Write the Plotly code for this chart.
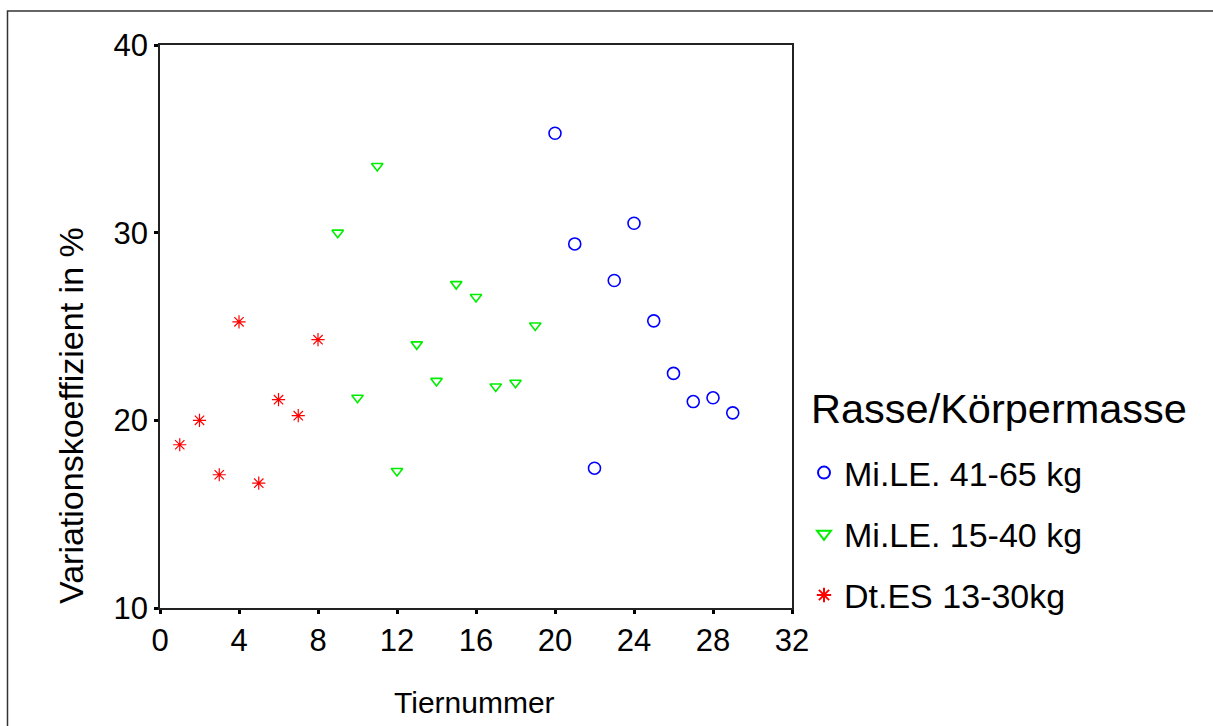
import plotly.graph_objects as go

# Data
tier_large = [20, 21, 22, 23, 24, 25, 26, 27, 28, 29]
cv_large = [35.3, 29.4, 17.45, 27.45, 30.5, 25.3, 22.5, 21.0, 21.2, 20.4]

tier_small = [9, 10, 11, 12, 13, 14, 15, 16, 17, 18, 19]
cv_small = [30.0, 21.2, 33.55, 17.3, 24.05, 22.1, 27.26, 26.57, 21.8, 22.0, 25.05]

tier_es = [1, 2, 3, 4, 5, 6, 7, 8]
cv_es = [18.7, 20.0, 17.1, 25.25, 16.65, 21.1, 20.25, 24.3]

names = ["Mi.LE. 41-65 kg", "Mi.LE. 15-40 kg", "Dt.ES 13-30kg"]
legend_title = "Rasse/Körpermasse"
x_ticks = [0, 4, 8, 12, 16, 20, 24, 28, 32]
y_ticks = [10, 20, 30, 40]

FONT = "Liberation Sans, Arial, sans-serif"
W, H = 1213, 726
L, R, T, B = 160, 421, 45, 118
PW, PH = W - L - R, H - T - B


def px_x(p):
    return (p - L) / PW


def px_y(p):
    return (H - B - p) / PH


fig = go.Figure()
fig.add_trace(go.Scatter(
    x=tier_large, y=cv_large, mode="markers", name=names[0], legendgroup="a",
    marker=dict(symbol="circle-open", size=12, color="#0000ff",
                line=dict(width=1.6, color="#0000ff")),
))
fig.add_trace(go.Scatter(
    x=tier_small, y=cv_small, mode="markers", name=names[1], legendgroup="b",
    marker=dict(symbol="triangle-down-open", size=10, color="#00ee00",
                line=dict(width=1.6, color="#00ee00")),
))
fig.add_trace(go.Scatter(
    x=tier_es, y=cv_es, mode="markers", name=names[2], legendgroup="c",
    marker=dict(symbol="asterisk-open", size=11, color="#ff0000",
                line=dict(width=1.2, color="#ff0000")),
))

fig.update_layout(
    width=W, height=H,
    margin=dict(l=L, r=R, t=T, b=B, autoexpand=False),
    paper_bgcolor="white", plot_bgcolor="white",
    font=dict(family=FONT, color="black"),
    showlegend=True,
    legend=dict(
        x=px_x(804), xanchor="left", y=px_y(444), yanchor="top",
        font=dict(size=34, family=FONT),
        tracegroupgap=14, itemsizing="constant",
        bgcolor="rgba(0,0,0,0)",
    ),
    xaxis=dict(
        range=[0, 32], tickvals=x_ticks, ticktext=[str(v) for v in x_ticks],
        showgrid=False, zeroline=False,
        showline=True, linecolor="#222", linewidth=1.5, mirror=True,
        ticks="outside", ticklen=4, tickwidth=3, tickcolor="black",
        tickfont=dict(size=31, family=FONT),
    ),
    yaxis=dict(
        range=[10, 40], tickvals=y_ticks, ticktext=[str(v) for v in y_ticks],
        showgrid=False, zeroline=False,
        showline=True, linecolor="#222", linewidth=1.5, mirror=True,
        ticks="outside", ticklen=4, tickwidth=3, tickcolor="black",
        tickfont=dict(size=31, family=FONT),
    ),
    annotations=[
        dict(text="Tiernummer", xref="paper", yref="paper",
             x=px_x(474), y=px_y(702), xanchor="center", yanchor="middle",
             showarrow=False, font=dict(size=30, family=FONT)),
        dict(text="Variationskoeffizient in %", xref="paper", yref="paper",
             x=px_x(71), y=px_y(416), xanchor="center", yanchor="middle",
             textangle=-90, showarrow=False, font=dict(size=34, family=FONT)),
        dict(text=legend_title, xref="paper", yref="paper",
             x=px_x(809), y=px_y(408), xanchor="left", yanchor="middle",
             showarrow=False, font=dict(size=41.5, family=FONT)),
    ],
    shapes=[
        dict(type="rect", xref="paper", yref="paper",
             x0=px_x(7.5), x1=px_x(1230), y0=px_y(750), y1=px_y(11),
             line=dict(color="#333", width=1.5), fillcolor="rgba(0,0,0,0)",
             layer="below"),
    ],
)

fig.write_html("out.html", config={"displayModeBar": False},
               post_script="document.body.style.margin='0';")
